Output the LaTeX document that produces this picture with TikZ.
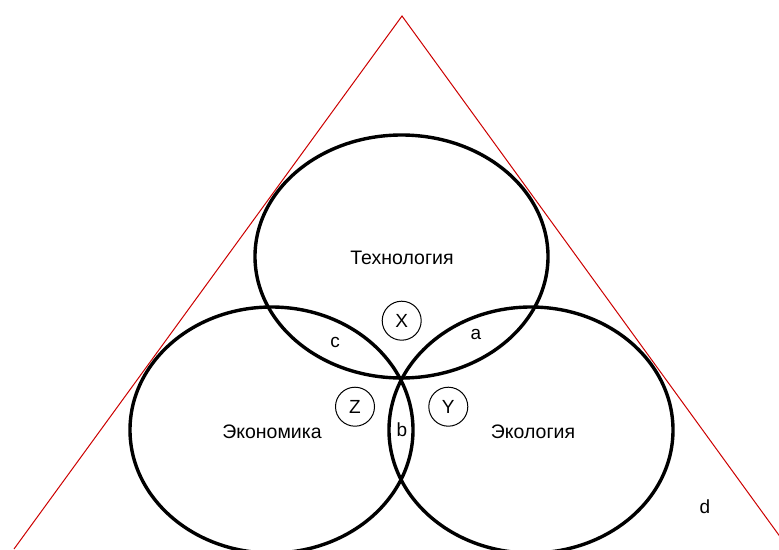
\documentclass[tikz,border=0pt]{standalone}
\usepackage{fontspec}
\setmainfont{Liberation Sans}
\definecolor{tri}{RGB}{204,0,0}
\begin{document}
\begin{tikzpicture}[x=1pt,y=-1pt,
  set/.style={draw=black,line width=3.4pt},
  tag/.style={draw=black,line width=1pt,circle,minimum size=39pt,inner sep=0pt,font=\fontsize{19}{21}\selectfont},
  lbl/.style={font=\fontsize{19}{21}\selectfont,inner sep=0pt},
  big/.style={font=\fontsize{19.5}{22}\selectfont,inner sep=0pt}]
\useasboundingbox (0,0) rectangle (779,549);
\begin{scope}
\clip (0,0) rectangle (779,549);
\coordinate (apex) at (402,16);
\coordinate (bl) at (14,549);
\coordinate (br) at (789,549);
\draw[tri,line width=1pt] (bl) -- (apex) -- (br);
\draw[set] (401.5,256.5) ellipse [x radius=146.5, y radius=121.5];
\draw[set] (271.5,430) ellipse [x radius=141.5, y radius=123];
\draw[set] (531,430) ellipse [x radius=142, y radius=123];
\end{scope}
\node[big] (tech) at (402,258) {Технология};
\node[big] (econ) at (272,432) {Экономика};
\node[big] (ecol) at (533,432) {Экология};
\node[tag] (X) at (401.7,320.7) {X};
\node[tag] (Z) at (355,406.7) {Z};
\node[tag] (Y) at (448.3,406.7) {Y};
\node[lbl] (c) at (335,342) {c};
\node[lbl] (a) at (476,334) {a};
\node[lbl] (b) at (402,430) {b};
\node[lbl] (d) at (705,507) {d};
\end{tikzpicture}
\end{document}
